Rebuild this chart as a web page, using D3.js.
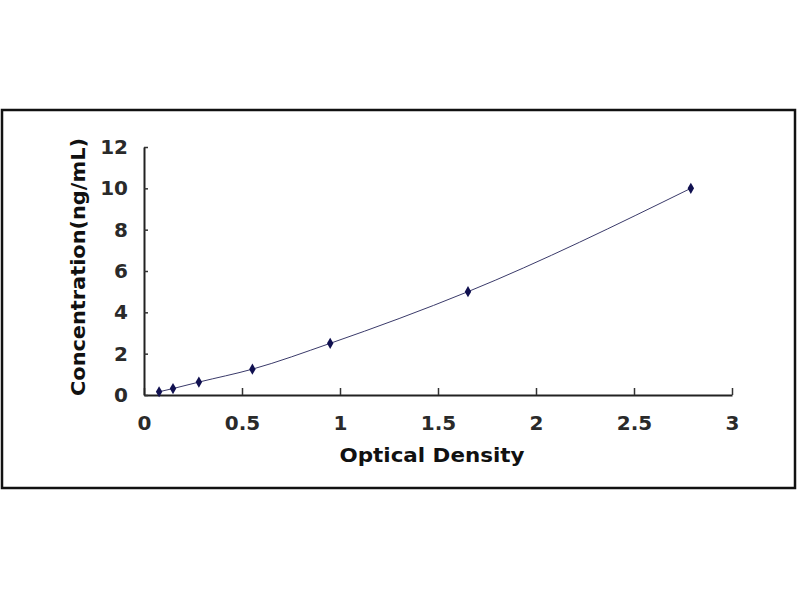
<!DOCTYPE html>
<html>
<head>
<meta charset="utf-8">
<script src="https://cdn.jsdelivr.net/npm/d3@7"></script>
<style>
  body { margin: 0; background: #fff; }
  svg { display: block; }
  .tick text { font-family: "DejaVu Sans", Verdana, sans-serif; font-weight: bold; }
</style>
</head>
<body>
<svg id="chart" width="800" height="600"></svg>
<script>
// standard curve readings
var opticalDensity = [0.077, 0.148, 0.28, 0.553, 0.95, 1.653, 2.79];
var concentration = [0.156, 0.312, 0.625, 1.25, 2.5, 5, 10];
var xTicks = [0, 0.5, 1, 1.5, 2, 2.5, 3];
var yTicks = [0, 2, 4, 6, 8, 10, 12];

var svg = d3.select("#chart");

// outer frame
svg.append("rect")
    .attr("x", 2).attr("y", 110)
    .attr("width", 793).attr("height", 378)
    .attr("fill", "#fff")
    .attr("stroke", "#111")
    .attr("stroke-width", 2.5);

var x = d3.scaleLinear().domain([0, 3]).range([144, 732]);
var y = d3.scaleLinear().domain([0, 12]).range([395, 147]);

var xAxis = svg.append("g")
    .attr("transform", "translate(0,395)")
    .call(d3.axisBottom(x).tickValues(xTicks).tickSizeInner(-7).tickSizeOuter(0)
        .tickPadding(21).tickFormat(d3.format("")));
var yAxis = svg.append("g")
    .attr("transform", "translate(144,0)")
    .call(d3.axisLeft(y).tickValues(yTicks).tickSizeInner(-4).tickSizeOuter(0)
        .tickPadding(16).tickFormat(d3.format("d")));

[xAxis, yAxis].forEach(function (g) {
    g.select(".domain").attr("stroke", "#222").attr("stroke-width", 2);
    g.selectAll(".tick line").attr("stroke", "#333").attr("stroke-width", 1.5);
    g.selectAll(".tick text").attr("fill", "#2a2a2a").style("font-size", "20px");
});

// axis titles
svg.append("text")
    .attr("x", 432).attr("y", 462)
    .attr("text-anchor", "middle")
    .attr("textLength", 185)
    .attr("lengthAdjust", "spacingAndGlyphs")
    .style("font-family", "'DejaVu Sans', Verdana, sans-serif")
    .style("font-weight", "bold").style("font-size", "20px")
    .attr("fill", "#111")
    .text("Optical Density");

svg.append("text")
    .attr("transform", "translate(85,267) rotate(-90)")
    .attr("text-anchor", "middle")
    .attr("textLength", 258)
    .attr("lengthAdjust", "spacingAndGlyphs")
    .style("font-family", "'DejaVu Sans', Verdana, sans-serif")
    .style("font-weight", "bold").style("font-size", "19px")
    .attr("fill", "#111")
    .text("Concentration(ng/mL)");

var points = opticalDensity.map(function (od, i) { return [od, concentration[i]]; });

var line = d3.line()
    .x(function (d) { return x(d[0]); })
    .y(function (d) { return y(d[1]); })
    .curve(d3.curveMonotoneX);

svg.append("path")
    .datum(points)
    .attr("d", line)
    .attr("fill", "none")
    .attr("stroke", "#3a3a6a")
    .attr("stroke-width", 1);

svg.selectAll(".pt")
    .data(points)
    .enter().append("path")
    .attr("class", "pt")
    .attr("d", d3.symbol().type(d3.symbolDiamond).size(36))
    .attr("transform", function (d) { return "translate(" + x(d[0]) + "," + y(d[1]) + ")"; })
    .attr("fill", "#101050");
</script>
</body>
</html>
